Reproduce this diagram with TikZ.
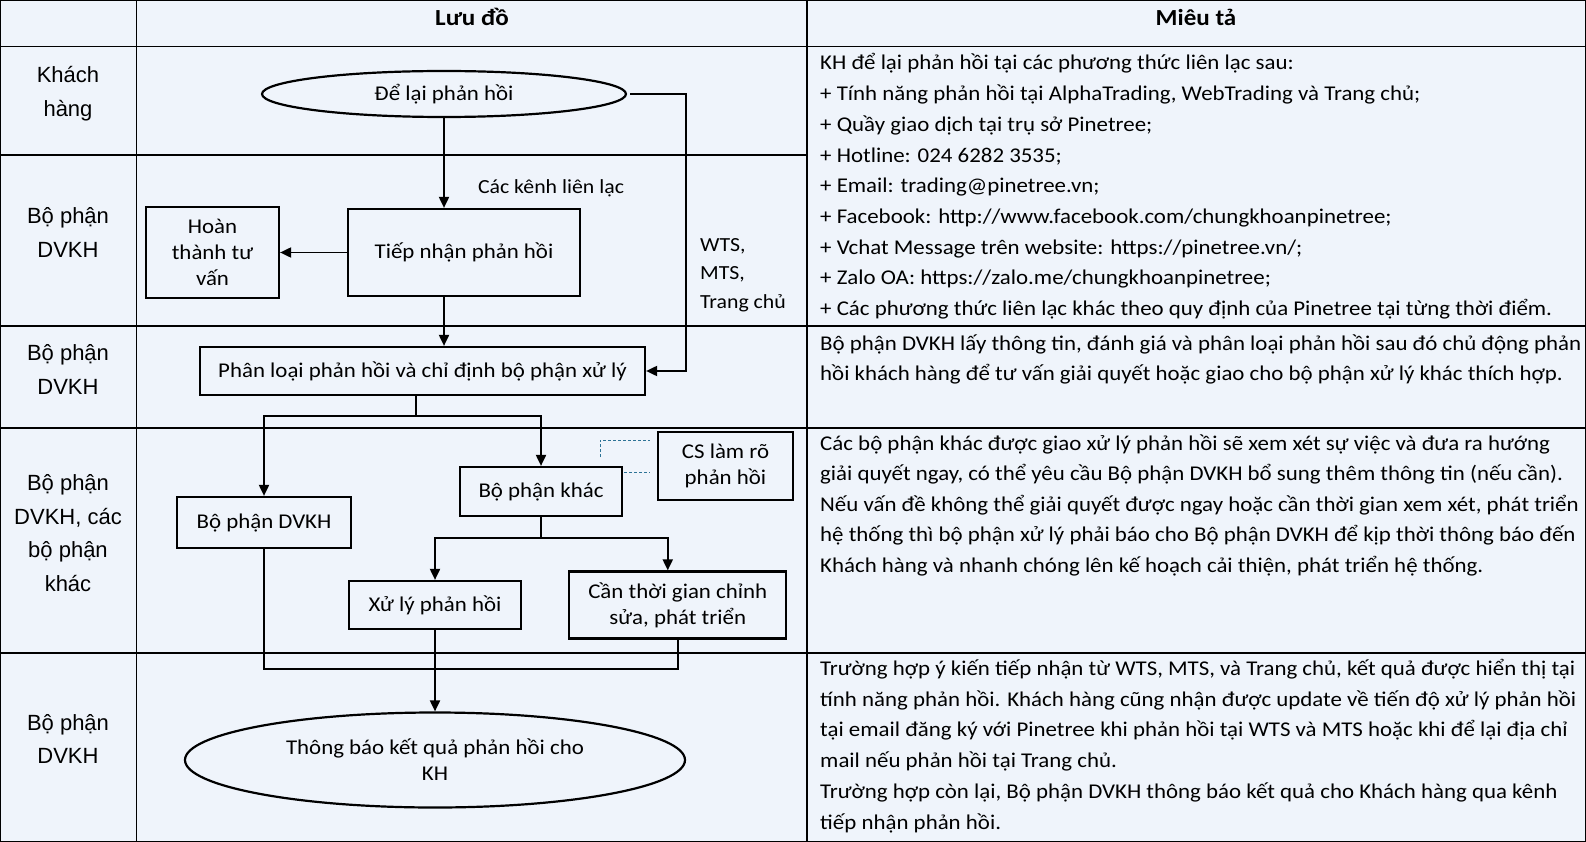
\documentclass[tikz,border=0pt]{standalone}
\usepackage{fontspec}
\setmainfont{Carlito}[FakeStretch=1.09]
\newfontfamily\lblfamily{Liberation Sans}
\usetikzlibrary{arrows.meta,shapes.geometric}
\definecolor{bgc}{RGB}{239,244,251}
\definecolor{dashc}{RGB}{45,115,150}
\newcommand\myflow{\fontsize{21}{26}\selectfont}
\newcommand\mysmall{\fontsize{20}{28.5}\selectfont}
\newcommand\mydesc{\fontsize{21}{30.7}\selectfont}
\newcommand\mylbl{\lblfamily\fontsize{22}{33.5}\selectfont}
\begin{document}
\begin{tikzpicture}[x=1pt,y=-1pt,
  gridline/.style={line width=1.4pt},
  fbox/.style={draw, line width=2.2pt, inner sep=1pt, align=center, font=\myflow},
  fell/.style={ellipse, draw, line width=2.2pt, inner sep=0pt, align=center, font=\myflow},
  conn/.style={line width=1.9pt},
  arr/.style={line width=1.9pt, -{Triangle[length=11pt,width=10pt]}},
  dsh/.style={dashc, line width=1pt, dash pattern=on 3pt off 2pt},
  desc/.style={anchor=base west, inner sep=0pt, font=\mydesc},
  lbl/.style={align=center, inner sep=0pt, font=\mylbl},
  hdr/.style={inner sep=0pt, font=\fontsize{23}{26}\selectfont\bfseries}]
\fill[bgc] (0,0) rectangle (1586,842);
\useasboundingbox (0,0) rectangle (1586,842);
% table grid
\draw[gridline] (0.7,0.7) rectangle (1585.3,841.3);
\draw[gridline] (136.5,0) -- (136.5,842);
\draw[gridline] (807,0) -- (807,842);
\draw[gridline] (0,46.5) -- (1586,46.5);
\draw[gridline] (0,155) -- (807,155);
\draw[gridline] (0,326) -- (1586,326);
\draw[gridline] (0,428) -- (1586,428);
\draw[gridline] (0,653) -- (1586,653);
% headers
\node[hdr] (h1) at (472,17) {Lưu đồ};
\node[hdr] (h2) at (1196,17) {Miêu tả};
% left labels
\node[lbl] (l1) at (68,93.5) {Khách\\hàng};
\node[lbl] (l2) at (68,232.5) {Bộ phận\\DVKH};
\node[lbl] (l3) at (68,369.5) {Bộ phận\\DVKH};
\node[lbl] (l4) at (68,533) {Bộ phận\\DVKH, các\\bộ phận\\khác};
\node[lbl] (l5) at (68,739) {Bộ phận\\DVKH};
% flowchart nodes
\node[fell, minimum width=364pt, minimum height=46pt] (e1) at (444,94) {Để lại phản hồi};
\node[fbox, minimum width=232pt, minimum height=87pt] (tn) at (464,252.5) {Tiếp nhận phản hồi};
\node[fbox, minimum width=133pt, minimum height=91pt] (ht) at (212.5,252.5) {Hoàn\\thành tư\\vấn};
\node[fbox, minimum width=445pt, minimum height=48pt] (pl) at (422.5,371) {Phân loại phản hồi và chỉ định bộ phận xử lý};
\node[fbox, minimum width=174pt, minimum height=51pt] (dv) at (264,522.5) {Bộ phận DVKH};
\node[fbox, minimum width=162pt, minimum height=49pt] (bk) at (541,491.5) {Bộ phận khác};
\node[fbox, minimum width=135pt, minimum height=68pt] (cs) at (725.5,466) {CS làm rõ\\phản hồi};
\node[fbox, minimum width=172pt, minimum height=48pt] (xl) at (435,605) {Xử lý phản hồi};
\node[fbox, minimum width=217pt, minimum height=67pt] (ct) at (677.75,605) {Cần thời gian chỉnh\\sửa, phát triển};
\node[fell, minimum width=500pt, minimum height=95pt] (e2) at (435,760) {Thông báo kết quả phản hồi cho\\KH};
% labels on connectors
\node[inner sep=0pt, font=\mysmall] (kl) at (551,188) {Các kênh liên lạc};
\node[inner sep=0pt, font=\mysmall, align=left, anchor=north west] (wts) at (700,238) {WTS,\\MTS,\\Trang chủ};
% connectors
\coordinate (rt) at (686,0);
\coordinate (s1) at (416,416);
\coordinate (s2) at (541,538);
\coordinate (mg) at (264,669);
\draw[arr] (e1.south) -- (e1.south |- tn.north);
\draw[arr] (tn.west) -- (ht.east);
\draw[arr] (e1.south |- tn.south) -- (e1.south |- pl.north);
\draw[arr] ([xshift=3pt]e1.east) -| (rt |- pl.east) -- (pl.east);
\draw[conn] (s1 |- pl.south) -- (s1);
\draw[arr] (s1) -| (dv.north);
\draw[arr] (s1) -| (bk.north);
\draw[conn] (bk.south) -- (s2);
\draw[arr] (s2) -| (xl.north);
\draw[arr] (s2) -| ([xshift=-10pt]ct.north);
\draw[conn] (dv.south) -- (mg) -| (ct.south);
\draw[arr] (xl.south) -- (e2.north);
\coordinate (d1) at (600,457);
\coordinate (d2) at (600,440);
\draw[dsh] (d1) -- (d2) -- ([xshift=-7pt]cs.west |- d2);
\draw[dsh] ([xshift=1pt]bk.east |- 0,472) -- ([xshift=-7pt]cs.west |- 0,472);
% descriptions
\foreach \t [count=\i] in {
 {KH để lại phản hồi tại các phương thức liên lạc sau:},
 {+ Tính năng phản hồi tại AlphaTrading, WebTrading và Trang chủ;},
 {+ Quầy giao dịch tại trụ sở Pinetree;},
 {+ Hotline: 024 6282 3535;},
 {+ Email: trading@pinetree.vn;},
 {+ Facebook: http://www.facebook.com/chungkhoanpinetree;},
 {+ Vchat Message trên website: https://pinetree.vn/;},
 {+ Zalo OA: https://zalo.me/chungkhoanpinetree;},
 {+ Các phương thức liên lạc khác theo quy định của Pinetree tại từng thời điểm.}}
 \node[desc] (da\i) at (820,{70+30.7*(\i-1)}) {\t};
\foreach \t [count=\i] in {
 {Bộ phận DVKH lấy thông tin, đánh giá và phân loại phản hồi sau đó chủ động phản},
 {hồi khách hàng để tư vấn giải quyết hoặc giao cho bộ phận xử lý khác thích hợp.}}
 \node[desc] (db\i) at (820,{350+30.2*(\i-1)}) {\t};
\foreach \t [count=\i] in {
 {Các bộ phận khác được giao xử lý phản hồi sẽ xem xét sự việc và đưa ra hướng},
 {giải quyết ngay, có thể yêu cầu Bộ phận DVKH bổ sung thêm thông tin (nếu cần).},
 {Nếu vấn đề không thể giải quyết được ngay hoặc cần thời gian xem xét, phát triển},
 {hệ thống thì bộ phận xử lý phải báo cho Bộ phận DVKH để kịp thời thông báo đến},
 {Khách hàng và nhanh chóng lên kế hoạch cải thiện, phát triển hệ thống.}}
 \node[desc] (dc\i) at (820,{450+30.6*(\i-1)}) {\t};
\foreach \t [count=\i] in {
 {Trường hợp ý kiến tiếp nhận từ WTS, MTS, và Trang chủ, kết quả được hiển thị tại},
 {tính năng phản hồi. Khách hàng cũng nhận được update về tiến độ xử lý phản hồi},
 {tại email đăng ký với Pinetree khi phản hồi tại WTS và MTS hoặc khi để lại địa chỉ},
 {mail nếu phản hồi tại Trang chủ.},
 {Trường hợp còn lại, Bộ phận DVKH thông báo kết quả cho Khách hàng qua kênh},
 {tiếp nhận phản hồi.}}
 \node[desc] (dd\i) at (820,{675.5+30.7*(\i-1)}) {\t};
\end{tikzpicture}
\end{document}
